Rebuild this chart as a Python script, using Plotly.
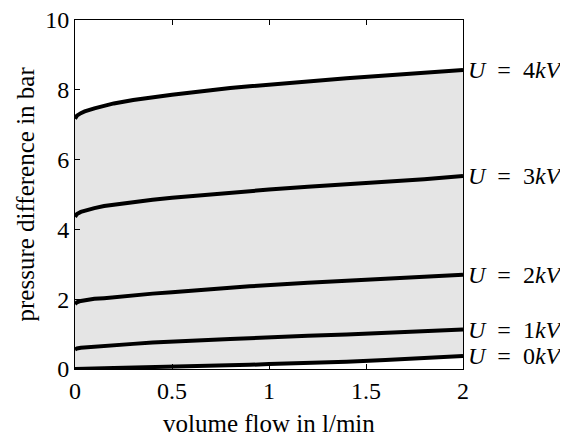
import plotly.graph_objects as go

flow = [0, 0.01, 0.03, 0.05, 0.1, 0.15, 0.2, 0.3, 0.4, 0.5, 0.6, 0.7, 0.8, 0.9, 1.0, 1.2, 1.4, 1.6, 1.8, 2.0]
u0 = [0.00, 0.00, 0.00, 0.01, 0.01, 0.02, 0.03, 0.04, 0.05, 0.07, 0.08, 0.09, 0.11, 0.12, 0.14, 0.17, 0.21, 0.26, 0.31, 0.37]
u1 = [0.56, 0.59, 0.61, 0.62, 0.64, 0.66, 0.69, 0.72, 0.76, 0.79, 0.81, 0.84, 0.86, 0.88, 0.91, 0.95, 0.99, 1.03, 1.08, 1.13]
u2 = [1.86, 1.91, 1.95, 1.97, 2.01, 2.03, 2.06, 2.11, 2.16, 2.20, 2.25, 2.28, 2.33, 2.37, 2.41, 2.47, 2.53, 2.58, 2.64, 2.70]
u3 = [4.36, 4.44, 4.50, 4.54, 4.61, 4.67, 4.71, 4.78, 4.85, 4.91, 4.96, 5.01, 5.06, 5.10, 5.14, 5.22, 5.29, 5.36, 5.44, 5.53]
u4 = [7.17, 7.26, 7.33, 7.38, 7.47, 7.54, 7.61, 7.71, 7.79, 7.86, 7.92, 7.99, 8.05, 8.10, 8.15, 8.25, 8.33, 8.41, 8.49, 8.57]
series = [u0, u1, u2, u3, u4]
labels = ["0", "1", "2", "3", "4"]
xticks = [0, 0.5, 1, 1.5, 2]
yticks = [0, 2, 4, 6, 8, 10]

FONT = "Liberation Serif"
fig = go.Figure()
fig.add_trace(go.Scatter(x=flow, y=u0, mode="lines", line=dict(width=0),
                         showlegend=False, hoverinfo="skip"))
fig.add_trace(go.Scatter(x=flow, y=u4, mode="lines", line=dict(width=0),
                         fill="tonexty", fillcolor="#e5e5e5", showlegend=False, hoverinfo="skip"))
sp = "&nbsp;&nbsp;"
for s, lab in zip(series, labels):
    fig.add_trace(go.Scatter(x=flow, y=s, mode="lines",
                             line=dict(color="black", width=4),
                             showlegend=False))
    fig.add_annotation(x=flow[-1], y=s[-1], xref="x", yref="y",
                       text="<i>U</i>" + sp + "=" + sp + lab + "<i>kV</i>", showarrow=False,
                       xanchor="left", yanchor="middle", xshift=3,
                       font=dict(family=FONT, size=24, color="black"))

fig.add_annotation(x=0.5, y=0, xref="paper", yref="paper", text="volume flow in l/min",
                   showarrow=False, xanchor="center", yanchor="middle", yshift=-54,
                   font=dict(family=FONT, size=25, color="black"))
fig.add_annotation(x=0, y=0.5, xref="paper", yref="paper", text="pressure difference in bar",
                   showarrow=False, xanchor="center", yanchor="middle", xshift=-50, textangle=-90,
                   font=dict(family=FONT, size=25, color="black"))

fig.update_layout(
    width=560, height=429,
    margin=dict(l=67, r=105, t=12, b=68),
    paper_bgcolor="white", plot_bgcolor="white",
    font=dict(family=FONT, color="black"),
)
fig.update_xaxes(range=[0, 2], tickvals=xticks, ticktext=[str(t) for t in xticks],
                 ticks="inside", ticklen=5, tickcolor="black", showline=True, linecolor="black",
                 linewidth=1, mirror="ticks", showgrid=False, zeroline=False, automargin=False,
                 ticklabeloverflow="allow", tickfont=dict(size=24))
fig.update_yaxes(range=[0, 10], tickvals=yticks,
                 ticks="inside", ticklen=5, tickcolor="black", showline=True, linecolor="black",
                 linewidth=1, mirror=True, showgrid=False, zeroline=False, automargin=False,
                 ticklabeloverflow="allow", tickfont=dict(size=24))
fig.write_html("out.html")
